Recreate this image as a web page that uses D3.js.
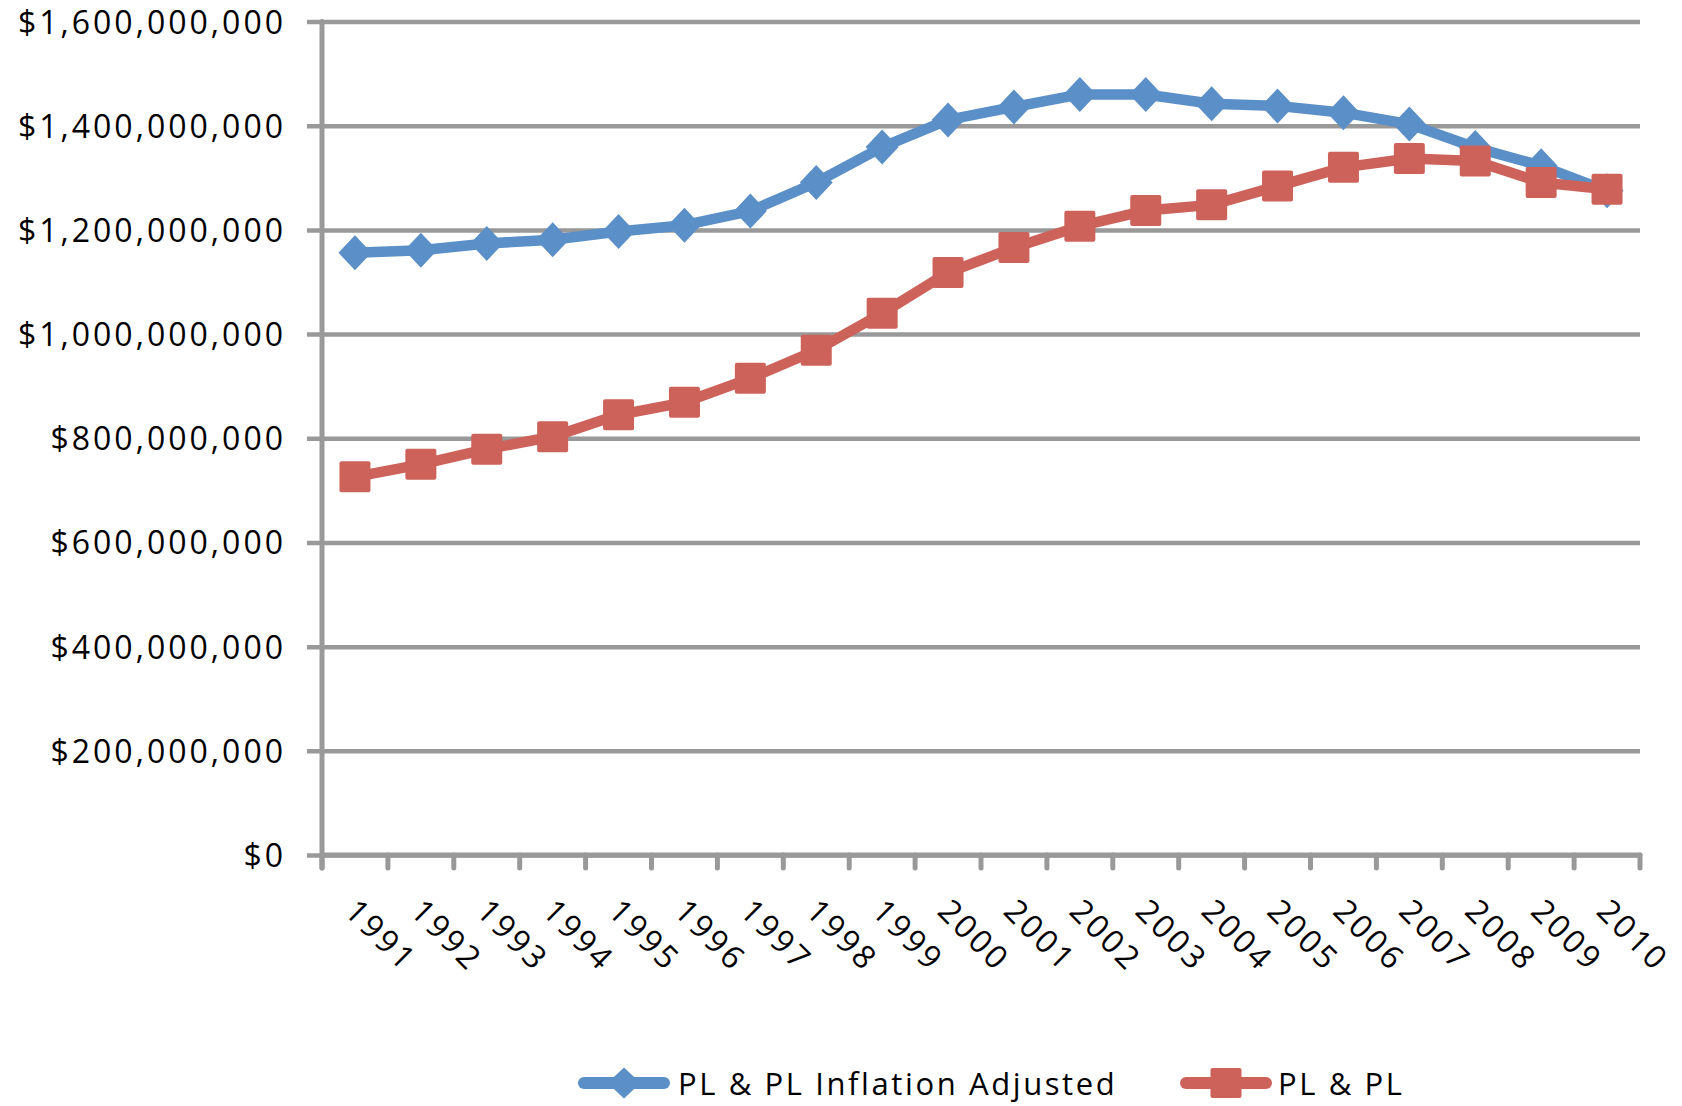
<!DOCTYPE html>
<html>
<head>
<meta charset="utf-8">
<script src="https://cdn.jsdelivr.net/npm/d3@7"></script>
<style>
  html, body { margin: 0; padding: 0; background: #ffffff; }
  svg { display: block; }
  text { font-family: "Open Sans", sans-serif; fill: #000; }
</style>
</head>
<body>
<svg id="chart" width="1682" height="1106"></svg>
<script>
// ---- data ----
const years = ["1991","1992","1993","1994","1995","1996","1997","1998","1999","2000",
               "2001","2002","2003","2004","2005","2006","2007","2008","2009","2010"];
const inflationAdjusted = [1156e6,1161e6,1174e6,1181e6,1197e6,1209e6,1236e6,1291e6,1359e6,1411e6,
                           1436e6,1460e6,1460e6,1442e6,1438e6,1425e6,1403e6,1358e6,1323e6,1275e6];
const nominal = [726e6,750e6,779e6,803e6,845e6,869e6,915e6,969e6,1040e6,1118e6,
                 1166e6,1207e6,1237e6,1248e6,1284e6,1320e6,1337e6,1332e6,1291e6,1278e6];
const yTickValues = [0,200e6,400e6,600e6,800e6,1000e6,1200e6,1400e6,1600e6];
const seriesNames = ["PL & PL Inflation Adjusted", "PL & PL"];
const seriesColors = ["#5B8FC7", "#CD625A"];

// ---- layout ----
const svg = d3.select("#chart");
const plotLeft = 322, plotRight = 1640, plotTop = 21.5, plotBottom = 855;
const gridColor = "#999999";
const fontFamily = "'Open Sans', sans-serif";

const x = d3.scaleBand().domain(years).range([plotLeft, plotRight]).padding(0);
const y = d3.scaleLinear().domain([0, 1600e6]).range([plotBottom, plotTop]);
const cx = d => x(d) + x.bandwidth() / 2;

// ---- y axis with gridlines ----
const yAxis = d3.axisLeft(y)
  .tickValues(yTickValues)
  .tickSizeInner(-(plotRight - 307))
  .tickSizeOuter(0)
  .tickPadding(21)
  .tickFormat(v => "$" + d3.format(",")(v));

const gy = svg.append("g").attr("transform", "translate(307,0)").call(yAxis);
gy.select(".domain").remove();
gy.selectAll(".tick line").attr("stroke", gridColor).attr("stroke-width", 4.5);
gy.selectAll(".tick text")
  .attr("font-size", 32)
  .attr("letter-spacing", 3)
  .attr("dy", "0.36em")
  .style("font-family", fontFamily)
  .style("fill", "#000");

// vertical axis line
svg.append("line")
  .attr("x1", plotLeft).attr("x2", plotLeft)
  .attr("y1", y(1600e6)).attr("y2", plotBottom + 13)
  .attr("stroke", gridColor).attr("stroke-width", 5).attr("stroke-linecap", "round");

// x axis line
svg.append("line")
  .attr("x1", plotLeft).attr("x2", plotRight)
  .attr("y1", plotBottom).attr("y2", plotBottom)
  .attr("stroke", gridColor).attr("stroke-width", 5).attr("stroke-linecap", "round");

// x ticks at category boundaries
const boundaries = years.map(d => x(d)).concat([x.range()[1]]);
svg.append("g").selectAll("line").data(boundaries).join("line")
  .attr("x1", d => d).attr("x2", d => d)
  .attr("y1", plotBottom).attr("y2", plotBottom + 13)
  .attr("stroke", gridColor).attr("stroke-width", 5).attr("stroke-linecap", "round");

// x labels rotated
svg.append("g").selectAll("text").data(years).join("text")
  .attr("transform", d => `translate(${cx(d) - 12},${plotBottom + 58}) rotate(45)`)
  .attr("font-size", 32)
  .attr("letter-spacing", 3)
  .text(d => d);

// ---- series ----
const line = d3.line().x((d, i) => cx(years[i])).y(d => y(d));
const diamond = (w, h) => `M0,${-h}L${w},0L0,${h}L${-w},0Z`;

const series = [inflationAdjusted, nominal];

series.forEach((vals, si) => {
  const g = svg.append("g");
  g.append("path")
    .datum(vals)
    .attr("d", line)
    .attr("fill", "none")
    .attr("stroke", seriesColors[si])
    .attr("stroke-width", 10.5)
    .attr("stroke-linejoin", "round")
    .attr("stroke-linecap", "round");
  if (si === 0) {
    g.selectAll("path.m").data(vals).join("path")
      .attr("class", "m")
      .attr("transform", (d, i) => `translate(${cx(years[i])},${y(d)})`)
      .attr("d", diamond(16.5, 17.5))
      .attr("fill", seriesColors[si]);
  } else {
    g.selectAll("rect.m").data(vals).join("rect")
      .attr("class", "m")
      .attr("x", (d, i) => cx(years[i]) - 15.5)
      .attr("y", d => y(d) - 15.5)
      .attr("width", 31).attr("height", 31)
      .attr("rx", 2)
      .attr("fill", seriesColors[si]);
  }
});

// ---- legend ----
const legendItems = [
  { name: seriesNames[0], color: seriesColors[0], x0: 578, x1: 670, tx: 678, marker: "diamond" },
  { name: seriesNames[1], color: seriesColors[1], x0: 1180, x1: 1272, tx: 1278, marker: "square" }
];
const ly = 1083;
const lg = svg.append("g");
legendItems.forEach(it => {
  lg.append("line")
    .attr("x1", it.x0 + 6).attr("x2", it.x1 - 6)
    .attr("y1", ly).attr("y2", ly)
    .attr("stroke", it.color).attr("stroke-width", 12).attr("stroke-linecap", "round");
  const mx = (it.x0 + it.x1) / 2;
  if (it.marker === "diamond") {
    lg.append("path")
      .attr("transform", `translate(${mx},${ly})`)
      .attr("d", diamond(16.5, 15.5))
      .attr("fill", it.color);
  } else {
    lg.append("rect")
      .attr("x", mx - 15.5).attr("y", ly - 15)
      .attr("width", 31).attr("height", 30).attr("rx", 2)
      .attr("fill", it.color);
  }
  lg.append("text")
    .attr("x", it.tx).attr("y", 1095)
    .attr("font-size", 31)
    .attr("letter-spacing", 2.6)
    .text(it.name);
});
</script>
</body>
</html>
